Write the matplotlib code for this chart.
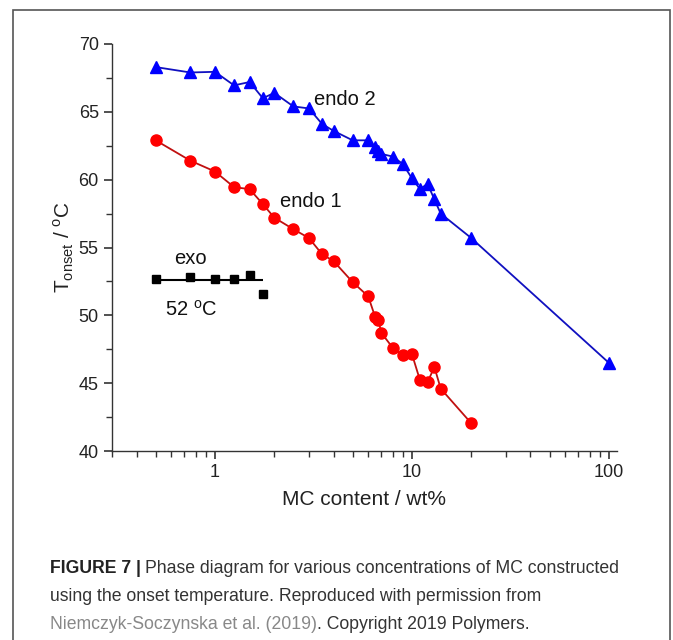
import numpy as np
import matplotlib.pyplot as plt
from matplotlib.patches import Rectangle
from matplotlib.ticker import LogLocator, NullFormatter, FixedLocator

plt.rcParams['font.family'] = ['Liberation Sans', 'DejaVu Sans']
plt.rcParams['mathtext.fontset'] = 'custom'
plt.rcParams['mathtext.rm'] = 'Liberation Sans'

# ---- data ----
endo2_x = [0.5, 0.75, 1.0, 1.25, 1.5, 1.75, 2.0, 2.5, 3.0, 3.5, 4.0, 5.0, 6.0,
           6.5, 6.75, 7.0, 8.0, 9.0, 10.0, 11.0, 12.0, 13.0, 14.0, 20.0, 100.0]
endo2_y = [68.3, 67.9, 67.95, 66.95, 67.2, 66.0, 66.4, 65.4, 65.25, 64.1, 63.6, 62.9, 62.9,
           62.4, 62.1, 61.9, 61.7, 61.15, 60.1, 59.3, 59.7, 58.55, 57.5, 55.7, 46.5]

endo1_x = [0.5, 0.75, 1.0, 1.25, 1.5, 1.75, 2.0, 2.5, 3.0, 3.5, 4.0, 5.0, 6.0,
           6.5, 6.75, 7.0, 8.0, 9.0, 10.0, 11.0, 12.0, 13.0, 14.0, 20.0]
endo1_y = [62.9, 61.4, 60.6, 59.45, 59.3, 58.2, 57.2, 56.35, 55.7, 54.5, 54.0, 52.45, 51.4,
           49.9, 49.65, 48.7, 47.6, 47.05, 47.15, 45.2, 45.05, 46.2, 44.6, 42.05]

exo_x = [0.5, 0.75, 1.0, 1.25, 1.5, 1.75]
exo_y = [52.7, 52.85, 52.65, 52.7, 52.95, 51.55]
exo_level = 52.6

# ---- figure ----
W, H = 673, 640
fig = plt.figure(figsize=(W / 100, H / 100), dpi=100, facecolor='white')

# outer frame of the figure panel
fig.patches.append(Rectangle((13 / W, -0.05), (670 - 13) / W, 1.05 - 10 / H,
                             transform=fig.transFigure, fill=False,
                             edgecolor='#555555', linewidth=1.2))

ax = fig.add_axes([112 / W, 1 - 451 / H, (617 - 112) / W, (451 - 44) / H])

ax.plot(endo2_x, endo2_y, '-', color='#1010c0', linewidth=1.3, zorder=2)
ax.plot(endo2_x, endo2_y, '^', color='#0000ff', markersize=8.5, linestyle='none', zorder=3)

ax.plot(endo1_x, endo1_y, '-', color='#c01010', linewidth=1.3, zorder=2)
ax.plot(endo1_x, endo1_y, 'o', color='#ff0000', markersize=8, linestyle='none', zorder=3)

ax.hlines(exo_level, min(exo_x) * 0.97, max(exo_x), color='black', linewidth=1.5, zorder=2)
ax.plot(exo_x, exo_y, 's', color='black', markersize=5.5, linestyle='none', zorder=3)

ax.set_xscale('log')
ax.set_xlim(0.3, 110)
ax.set_ylim(40, 70)

ax.xaxis.set_major_locator(FixedLocator([1, 10, 100]))
ax.set_xticklabels(['1', '10', '100'])
ax.xaxis.set_minor_locator(LogLocator(base=10, subs=np.arange(2, 10)))
ax.xaxis.set_minor_formatter(NullFormatter())
ax.set_yticks([40, 45, 50, 55, 60, 65, 70])
ax.set_yticks(np.arange(42.5, 70, 5), minor=True)

for side in ['top', 'right']:
    ax.spines[side].set_visible(False)
for side in ['left', 'bottom']:
    ax.spines[side].set_linewidth(1.0)
    ax.spines[side].set_color('#333333')

ax.tick_params(which='major', direction='out', length=6, width=1.2, colors='#333333',
               labelsize=13, labelcolor='#222222')
ax.tick_params(which='minor', direction='out', length=4, width=1.0, colors='#333333')

ax.set_xlabel('MC content / wt%', fontsize=15, color='#222222', labelpad=6)
ax.set_ylabel(r'T$_{\mathrm{onset}}$ / $^{\mathrm{o}}$C', fontsize=15, color='#222222', labelpad=2)

ax.text(3.2, 65.9, 'endo 2', fontsize=14.5, color='#111111', va='center', ha='left')
ax.text(2.15, 58.4, 'endo 1', fontsize=14.5, color='#111111', va='center', ha='left')
ax.text(0.62, 54.2, 'exo', fontsize=14.5, color='#111111', va='center', ha='left')
ax.text(0.56, 50.4, r'52 $^{\mathrm{o}}$C', fontsize=14.5, color='#111111', va='center', ha='left')

# ---- caption ----
cap_kw = dict(fontsize=12.7, transform=fig.transFigure, va='baseline')
y1, y2, y3 = 1 - 573 / H, 1 - 601 / H, 1 - 629 / H
t = fig.text(50 / W, y1, 'FIGURE 7 |', fontweight='bold', color='#222222', **cap_kw)
fig.canvas.draw()
bb = t.get_window_extent()
fig.text(bb.x1 / W + 4 / W, y1, 'Phase diagram for various concentrations of MC constructed',
         color='#333333', **cap_kw)
fig.text(50 / W, y2, 'using the onset temperature. Reproduced with permission from',
         color='#333333', **cap_kw)
t3 = fig.text(50 / W, y3, 'Niemczyk-Soczynska et al. (2019)', color='#888888', **cap_kw)
fig.canvas.draw()
bb3 = t3.get_window_extent()
fig.text(bb3.x1 / W, y3, '. Copyright 2019 Polymers.', color='#333333', **cap_kw)

fig.savefig('out.png', dpi=100, facecolor='white')
